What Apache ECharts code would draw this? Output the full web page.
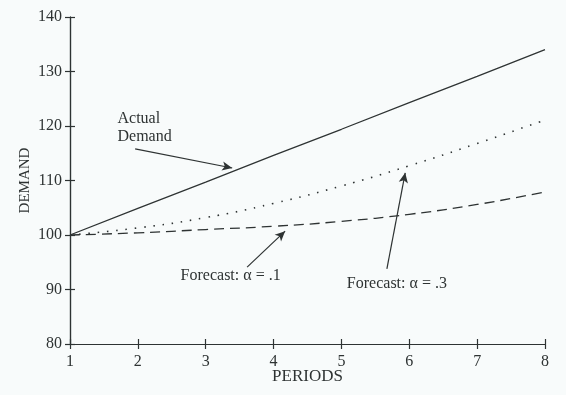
<!DOCTYPE html>
<html>
<head>
<meta charset="utf-8">
<script src="https://cdn.jsdelivr.net/npm/echarts@6/dist/echarts.min.js"></script>
<style>
html,body{margin:0;padding:0;background:#f8fbfb;}
#c{width:566px;height:395px;}
</style>
</head>
<body>
<div id="c"></div>
<script>
var periods = [1, 2, 3, 4, 5, 6, 7, 8];
var actualDemand = [100, 104.9, 109.7, 114.6, 119.4, 124.3, 129.1, 134];
var forecastA3 = [100, 101.3, 103.2, 105.8, 109.0, 112.7, 116.8, 121.1];
var forecastA1 = [100, 100.4, 101.0, 101.6, 102.5, 103.8, 105.6, 107.9];
var yTicks = [80, 90, 100, 110, 120, 130, 140];

function pairs(vals) { return periods.map(function (p, i) { return [p, vals[i]]; }); }

var font = 'Liberation Serif';
var ink = '#2e3333';

var chart = echarts.init(document.getElementById('c'));
var axisCommon = {
  type: 'value',
  axisLine: { show: true, lineStyle: { color: ink, width: 1.2 } },
  splitLine: { show: false }
};
chart.setOption({
  backgroundColor: '#f8fbfb',
  animation: false,
  grid: { left: 70, right: 21, top: 17, bottom: 51, containLabel: false, outerBoundsMode: 'none' },
  xAxis: [
    Object.assign({}, axisCommon, {
      min: 1, max: 8, interval: 1,
      axisTick: { show: true, length: 5, lineStyle: { color: ink, width: 1.2 } },
      axisLabel: { color: ink, fontFamily: font, fontSize: 16, margin: 10 },
      name: 'PERIODS', nameLocation: 'middle', nameGap: 24, nameMoveOverlap: false,
      nameTextStyle: { color: ink, fontFamily: font, fontSize: 17 }
    }),
    Object.assign({}, axisCommon, {
      min: 1, max: 8, interval: 1, position: 'bottom',
      axisTick: { show: true, inside: true, length: 5, lineStyle: { color: ink, width: 1.2 } },
      axisLabel: { show: false }
    })
  ],
  yAxis: [
    Object.assign({}, axisCommon, {
      min: 80, max: 140, interval: 10,
      axisTick: { show: true, length: 5, lineStyle: { color: ink, width: 1.2 } },
      axisLabel: { color: ink, fontFamily: font, fontSize: 16, margin: 8 },
      name: 'DEMAND', nameLocation: 'middle', nameGap: 37, nameMoveOverlap: false,
      nameTextStyle: { color: ink, fontFamily: font, fontSize: 15 }
    }),
    Object.assign({}, axisCommon, {
      min: 80, max: 140, interval: 10, position: 'left',
      axisTick: { show: true, inside: true, length: 5, lineStyle: { color: ink, width: 1.2 } },
      axisLabel: { show: false }
    })
  ],
  series: [
    {
      type: 'line', name: 'Actual Demand', data: pairs(actualDemand),
      symbol: 'none', lineStyle: { color: ink, width: 1.3 },
      markLine: {
        silent: true, symbol: ['none', 'arrow'], symbolSize: [7, 10],
        lineStyle: { color: ink, width: 1.2, type: 'solid' }, label: { show: false },
        data: [
          [{ coord: [1.96, 115.8] }, { coord: [3.39, 112.3] }],
          [{ coord: [3.61, 94.1] }, { coord: [4.17, 100.7] }],
          [{ coord: [5.67, 93.8] }, { coord: [5.94, 111.4] }]
        ]
      },
      markPoint: {
        silent: true, symbol: 'circle', symbolSize: 0,
        label: {
          show: true, color: ink, fontFamily: font, fontSize: 16, align: 'left',
          verticalAlign: 'middle', lineHeight: 18, position: 'inside'
        },
        data: [
          { coord: [1.70, 119.6], label: { formatter: 'Actual\nDemand' } },
          { coord: [2.63, 92.6], label: { formatter: 'Forecast: \u03b1 = .1' } },
          { coord: [5.08, 91.1], label: { formatter: 'Forecast: \u03b1 = .3' } }
        ]
      }
    },
    {
      type: 'line', name: 'Forecast a=.3', data: pairs(forecastA3), smooth: true,
      symbol: 'none', lineStyle: { color: ink, width: 1.6, type: [1.5, 7.8] }
    },
    {
      type: 'line', name: 'Forecast a=.1', data: pairs(forecastA1), smooth: true,
      symbol: 'none', lineStyle: { color: ink, width: 1.3, type: [10, 6] }
    }
  ]
});
</script>
</body>
</html>
